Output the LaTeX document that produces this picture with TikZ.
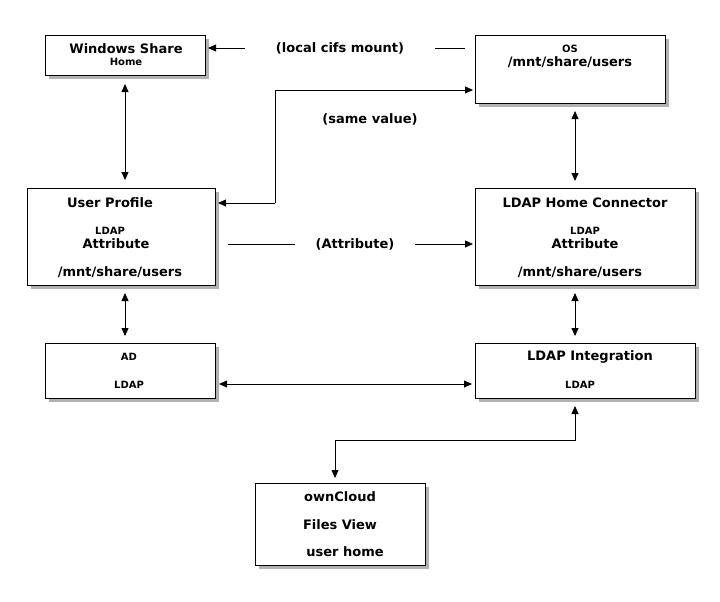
\documentclass[tikz,border=0pt]{standalone}
\usepackage{fontspec}
\setmainfont{DejaVu Sans}
\usetikzlibrary{arrows.meta}
\begin{document}
\begin{tikzpicture}[x=1pt,y=-1pt,
  box/.style={draw=black,fill=white,line width=0.9pt},
  shad/.style={fill=gray!60,draw=none},
  big/.style={font=\fontsize{13}{15}\selectfont\bfseries,inner sep=0pt},
  sml/.style={font=\fontsize{10}{12}\selectfont\bfseries,inner sep=0pt},
  ln/.style={line width=0.8pt},
  arr/.style={ln,-{Triangle[length=8pt,width=7pt]}},
  darr/.style={ln,{Triangle[length=8pt,width=7pt]}-{Triangle[length=8pt,width=7pt]}}]
\useasboundingbox (0,0) rectangle (720,602);
\newcommand{\shbox}[5]{%
  \fill[shad] (#1+4,#2+4) rectangle (#3+4,#4+4);
  \draw[box] (#1,#2) rectangle (#3,#4);
  \coordinate (#5) at (#1,#2);}
\shbox{45}{35}{205}{75}{ws}
\shbox{475}{35}{665}{103}{os}
\shbox{27}{188}{215}{285}{up}
\shbox{475}{188}{695}{285}{lh}
\shbox{45}{343}{215}{398}{ad}
\shbox{475}{343}{695}{398}{li}
\shbox{255}{483}{425}{565}{oc}
% texts
\node[big] (t1) at (126,49) {Windows Share};
\node[sml] (t2) at (126,62) {Home};
\node[sml] (t3) at (570,49) {OS};
\node[big] (t4) at (570,62) {/mnt/share/users};
\node[big] (t5) at (110,203) {User Profile};
\node[sml] (t6) at (110,231) {LDAP};
\node[big] (t7) at (116,244) {Attribute};
\node[big] (t8) at (120,272) {/mnt/share/users};
\node[big] (t9) at (585,203) {LDAP Home Connector};
\node[sml] (t10) at (585,231) {LDAP};
\node[big] (t11) at (585,244) {Attribute};
\node[big] (t12) at (580,272) {/mnt/share/users};
\node[sml] (t13) at (129,357) {AD};
\node[sml] (t14) at (129,385) {LDAP};
\node[big] (t15) at (590,357) {LDAP Integration};
\node[sml] (t16) at (580,385) {LDAP};
\node[big] (t17) at (340,497) {ownCloud};
\node[big] (t18) at (340,525) {Files View};
\node[big] (t19) at (345,552) {user home};
\node[big] (l1) at (340,48) {(local cifs mount)};
\node[big] (l2) at (370,119) {(same value)};
\node[big] (l3) at (355,244) {(Attribute)};
% connectors
\coordinate (a1) at (465,48); \coordinate (a2) at (435,48);
\coordinate (a3) at (245,48); \coordinate (a4) at (208,48);
\draw[ln] (a1) -- (a2);
\draw[arr] (a3) -- (a4);
\coordinate (b1) at (125,84); \coordinate (b2) at (125,180);
\draw[darr] (b1) -- (b2);
\coordinate (c1) at (275,203); \coordinate (c2) at (218,203);
\coordinate (c3) at (473,90);
\draw[arr] (c1) -- (c2);
\draw[arr] (c1) -- (275,90) -- (c3);
\coordinate (d1) at (575,111); \coordinate (d2) at (575,181);
\draw[darr] (d1) -- (d2);
\coordinate (e1) at (228,244); \coordinate (e2) at (295,244);
\coordinate (e3) at (415,244); \coordinate (e4) at (473,244);
\draw[ln] (e1) -- (e2);
\draw[arr] (e3) -- (e4);
\coordinate (f1) at (125,293); \coordinate (f2) at (125,336);
\draw[darr] (f1) -- (f2);
\coordinate (g1) at (575,293); \coordinate (g2) at (575,336);
\draw[darr] (g1) -- (g2);
\coordinate (h1) at (219,384); \coordinate (h2) at (472,384);
\draw[darr] (h1) -- (h2);
\coordinate (k1) at (575,406); \coordinate (k2) at (335,478);
\draw[darr] (k1) -- (575,440) -- (335,440) -- (k2);
\end{tikzpicture}
\end{document}
